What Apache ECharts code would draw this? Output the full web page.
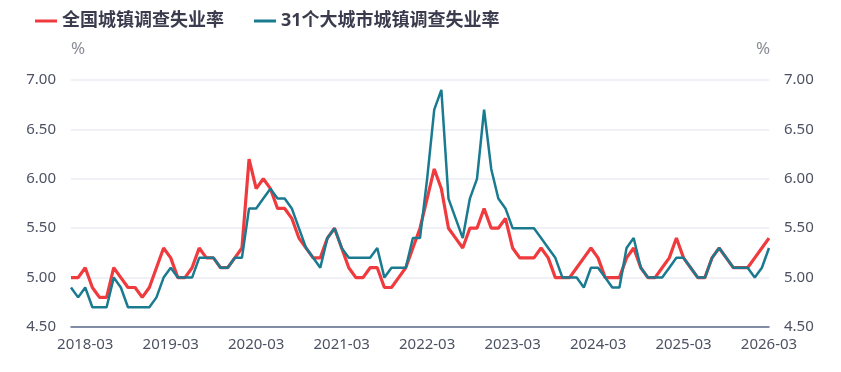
<!DOCTYPE html>
<html>
<head>
<meta charset="utf-8">
<script src="https://cdn.jsdelivr.net/npm/echarts@6/dist/echarts.min.js"></script>
<style>
html,body{margin:0;padding:0;background:#fff;}
#c{width:841px;height:372px;}
</style>
</head>
<body>
<div id="c"></div>
<script>
// Months 2018-01 .. 2026-03
var years = [2018, 2019, 2020, 2021, 2022, 2023, 2024, 2025, 2026];
var monthsLastYear = 3;
var seriesNames = ['全国城镇调查失业率', '31个大城市城镇调查失业率'];

var national = [
  5.0, 5.0, 5.1, 4.9, 4.8, 4.8, 5.1, 5.0, 4.9, 4.9, 4.8, 4.9,
  5.1, 5.3, 5.2, 5.0, 5.0, 5.1, 5.3, 5.2, 5.2, 5.1, 5.1, 5.2,
  5.3, 6.2, 5.9, 6.0, 5.9, 5.7, 5.7, 5.6, 5.4, 5.3, 5.2, 5.2,
  5.4, 5.5, 5.3, 5.1, 5.0, 5.0, 5.1, 5.1, 4.9, 4.9, 5.0, 5.1,
  5.3, 5.5, 5.8, 6.1, 5.9, 5.5, 5.4, 5.3, 5.5, 5.5, 5.7, 5.5,
  5.5, 5.6, 5.3, 5.2, 5.2, 5.2, 5.3, 5.2, 5.0, 5.0, 5.0, 5.1,
  5.2, 5.3, 5.2, 5.0, 5.0, 5.0, 5.2, 5.3, 5.1, 5.0, 5.0, 5.1,
  5.2, 5.4, 5.2, 5.1, 5.0, 5.0, 5.2, 5.3, 5.2, 5.1, 5.1, 5.1,
  5.2, 5.3, 5.4
];

var cities31 = [
  4.9, 4.8, 4.9, 4.7, 4.7, 4.7, 5.0, 4.9, 4.7, 4.7, 4.7, 4.7,
  4.8, 5.0, 5.1, 5.0, 5.0, 5.0, 5.2, 5.2, 5.2, 5.1, 5.1, 5.2,
  5.2, 5.7, 5.7, 5.8, 5.9, 5.8, 5.8, 5.7, 5.5, 5.3, 5.2, 5.1,
  5.4, 5.5, 5.3, 5.2, 5.2, 5.2, 5.2, 5.3, 5.0, 5.1, 5.1, 5.1,
  5.4, 5.4, 6.0, 6.7, 6.9, 5.8, 5.6, 5.4, 5.8, 6.0, 6.7, 6.1,
  5.8, 5.7, 5.5, 5.5, 5.5, 5.5, 5.4, 5.3, 5.2, 5.0, 5.0, 5.0,
  4.9, 5.1, 5.1, 5.0, 4.9, 4.9, 5.3, 5.4, 5.1, 5.0, 5.0, 5.0,
  5.1, 5.2, 5.2, 5.1, 5.0, 5.0, 5.2, 5.3, 5.2, 5.1, 5.1, 5.1,
  5.0, 5.1, 5.3
];

var yTicks = { min: 4.5, max: 7.0, interval: 0.5 };

var categories = [];
years.forEach(function (y, yi) {
  var n = (yi === years.length - 1) ? monthsLastYear : 12;
  for (var m = 1; m <= n; m++) categories.push(y + '-' + (m < 10 ? '0' + m : m));
});

var font = '"Noto Sans", "Noto Sans CJK SC", sans-serif';
var labelColor = '#4d5263';

function yAxis(pos, pad) {
  return {
    type: 'value',
    position: pos,
    min: yTicks.min, max: yTicks.max, interval: yTicks.interval,
    name: '%',
    nameLocation: 'end',
    nameGap: 22,
    nameTextStyle: { color: '#8a8d96', fontSize: 17, fontFamily: font, padding: pad },
    axisLine: { show: false },
    axisTick: { show: false },
    axisLabel: {
      color: labelColor, fontSize: 15, fontFamily: font, margin: 15,
      formatter: function (v) { return v.toFixed(2); }
    },
    splitLine: { show: pos === 'left', lineStyle: { color: '#ebecf5', width: 1.5 } }
  };
}

var chart = echarts.init(document.getElementById('c'), null, { renderer: 'canvas' });
chart.setOption({
  animation: false,
  backgroundColor: '#fff',
  legend: {
    left: 30, top: 7,
    itemWidth: 22, itemHeight: 3, itemGap: 30,
    icon: 'rect',
    textStyle: { color: '#3a3c4e', fontSize: 18, fontWeight: 'bold', fontFamily: font },
    data: seriesNames
  },
  grid: { left: 71, right: 72, top: 80, bottom: 45 },
  xAxis: {
    type: 'category',
    data: categories,
    boundaryGap: false,
    axisLine: { lineStyle: { color: '#5c6b8c', width: 1.5 } },
    axisTick: { show: false },
    axisLabel: {
      color: labelColor, fontSize: 15, fontFamily: font, margin: 10,
      interval: function (i) { return (i - 2) % 12 === 0; }
    },
    splitLine: { show: false }
  },
  yAxis: [yAxis('left', [0, 0, 0, 14]), yAxis('right', [0, 0, 0, -12])],
  series: [
    {
      name: seriesNames[0], type: 'line', data: national, yAxisIndex: 0,
      symbol: 'none', smooth: false,
      lineStyle: { color: '#f03b3e', width: 3.2 },
      itemStyle: { color: '#f03b3e' }, z: 2
    },
    {
      name: seriesNames[1], type: 'line', data: cities31, yAxisIndex: 0,
      symbol: 'none', smooth: false,
      lineStyle: { color: '#1a7a90', width: 2.5 },
      itemStyle: { color: '#1a7a90' }, z: 3
    }
  ]
});
</script>
</body>
</html>
